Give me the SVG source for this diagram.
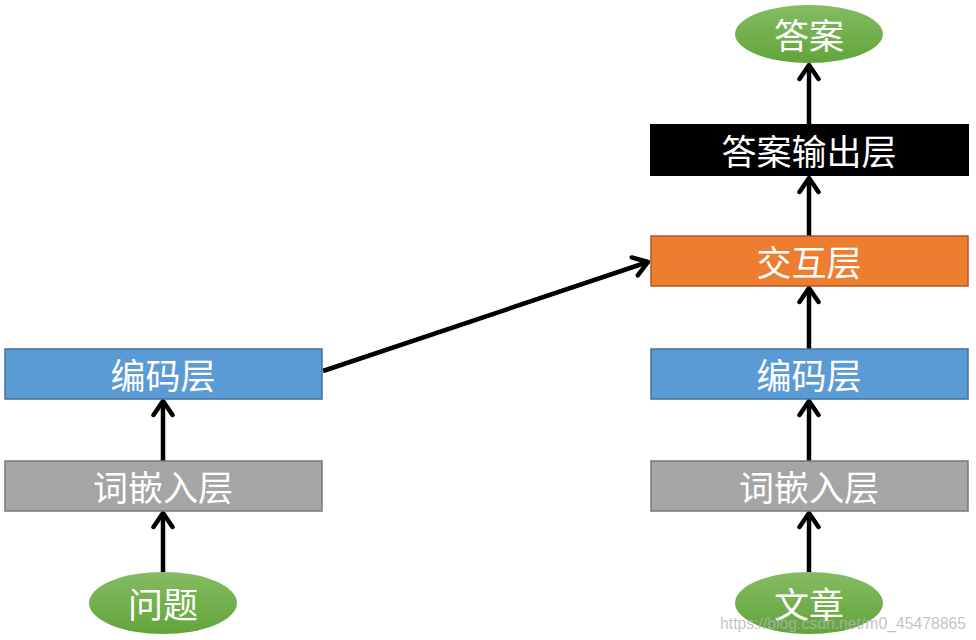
<svg xmlns="http://www.w3.org/2000/svg" width="976" height="640" viewBox="0 0 976 640">
<defs>
<linearGradient id="g" x1="0" y1="0" x2="0" y2="1">
<stop offset="0" stop-color="#84BC63"/>
<stop offset="1" stop-color="#62A43A"/>
</linearGradient>
<marker id="ah" viewBox="0 0 24 24" refX="19" refY="12" markerWidth="24" markerHeight="24" markerUnits="userSpaceOnUse" orient="auto">
<path d="M5,2.5 L19,12 L5,21.5" fill="none" stroke="#000" stroke-width="4.5" stroke-linecap="round" stroke-linejoin="round"/>
</marker>
</defs>
<style>
text{font-family:"Noto Sans CJK SC","Liberation Sans",sans-serif;font-size:35px;fill:#fff;text-anchor:middle;dominant-baseline:central}
.blue{fill:#5B9BD5;stroke:#41719C;stroke-width:1.5}
.gray{fill:#A5A5A5;stroke:#787878;stroke-width:1.5}
.orange{fill:#ED7D31;stroke:#AE5A21;stroke-width:1.5}
.black{fill:#000}
.ell{fill:url(#g)}
.conn line{stroke:#000;stroke-width:4.5;marker-end:url(#ah)}
text.wm{font-family:"Liberation Sans",Arial,sans-serif;font-size:16px;fill:#b4b4b4;fill-opacity:0.8;text-anchor:start;dominant-baseline:auto}
</style>
<rect width="976" height="640" fill="#fff"/>
<g class="conn">
<line x1="163" y1="572" x2="163" y2="513"/>
<line x1="163" y1="461" x2="163" y2="401"/>
<line x1="809" y1="572" x2="809" y2="513"/>
<line x1="809" y1="461" x2="809" y2="401"/>
<line x1="809" y1="349" x2="809" y2="288"/>
<line x1="809" y1="236" x2="809" y2="178"/>
<line x1="809" y1="124" x2="809" y2="65"/>
<line x1="323" y1="371" x2="648" y2="262"/>
</g>
<g id="q"><ellipse class="ell" cx="163" cy="603" rx="74" ry="31"/><text x="163" y="602">问题</text></g>
<g id="qemb"><rect class="gray" x="5" y="461" width="317" height="50"/><text x="163" y="485">词嵌入层</text></g>
<g id="qenc"><rect class="blue" x="5" y="349" width="317" height="50"/><text x="163" y="373">编码层</text></g>
<g id="p"><ellipse class="ell" cx="809" cy="603" rx="74" ry="31"/><text x="809" y="602">文章</text></g>
<g id="pemb"><rect class="gray" x="651" y="461" width="317" height="50"/><text x="809" y="485">词嵌入层</text></g>
<g id="penc"><rect class="blue" x="651" y="349" width="317" height="50"/><text x="809" y="373">编码层</text></g>
<g id="inter"><rect class="orange" x="651" y="236" width="317" height="50"/><text x="809" y="260">交互层</text></g>
<g id="out"><rect class="black" x="650" y="124" width="319" height="52"/><text x="809" y="149">答案输出层</text></g>
<g id="ans"><ellipse class="ell" cx="809" cy="34" rx="74" ry="29"/><text x="809" y="33">答案</text></g>
<text class="wm" x="720" y="629" textLength="246" lengthAdjust="spacingAndGlyphs">https://blog.csdn.net/m0_45478865</text>
</svg>
